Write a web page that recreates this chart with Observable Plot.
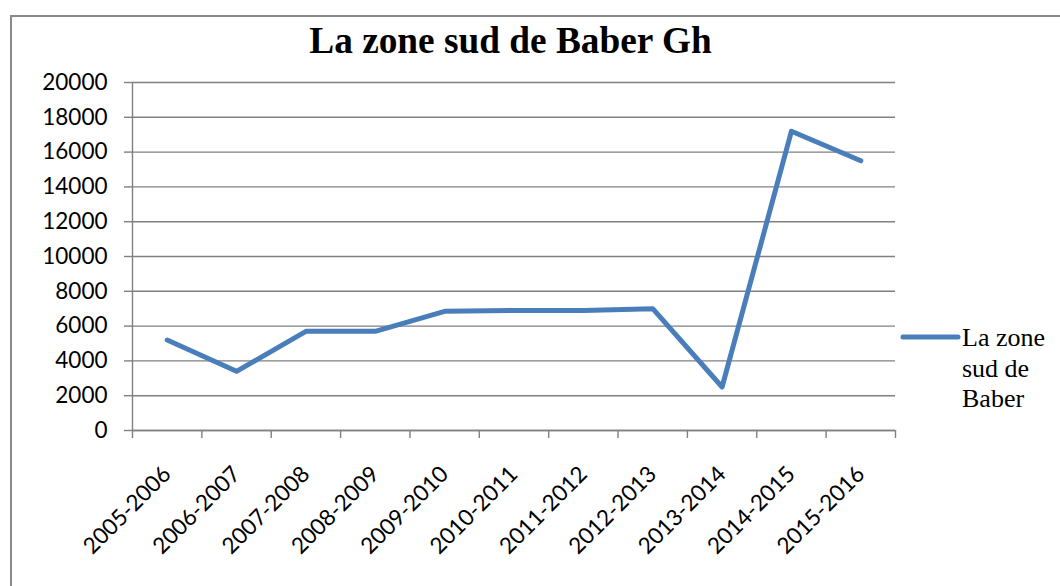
<!DOCTYPE html>
<html>
<head>
<meta charset="utf-8">
<script src="https://cdn.jsdelivr.net/npm/d3@7"></script>
<script src="https://cdn.jsdelivr.net/npm/@observablehq/plot@0.6"></script>
<style>
  html, body { margin: 0; padding: 0; background: #fff; }
  #wrap { position: relative; width: 1060px; height: 586px; overflow: hidden; background: #fff; }
  #frame { position: absolute; left: 10px; top: 15px; width: 1100px; height: 620px; border: 2px solid #8a8a8a; box-sizing: border-box; }
  #chart { position: absolute; left: 0; top: 0; }
  #title { position: absolute; left: 0; top: 22px; width: 1021px; text-align: center; font-family: "Liberation Serif", "Times New Roman", serif; font-weight: bold; font-size: 37.3px; line-height: 37.3px; color: #000; }
  #legend-line { position: absolute; left: 898px; top: 330px; }
  #legend-text { position: absolute; left: 962px; top: 323px; font-family: "Liberation Serif", "Times New Roman", serif; font-size: 26px; line-height: 30.5px; color: #000; }
</style>
</head>
<body>
<div id="wrap">
  <div id="frame"></div>
  <div id="chart"></div>
  <div id="title">La zone sud de Baber Gh</div>
  <svg id="legend-line" width="66" height="14"><line x1="5" y1="7" x2="60" y2="7" stroke="#4a7ebb" stroke-width="5" stroke-linecap="round"/></svg>
  <div id="legend-text">La zone<br>sud de<br>Baber</div>
</div>
<script>
const categories = ["2005-2006","2006-2007","2007-2008","2008-2009","2009-2010","2010-2011","2011-2012","2012-2013","2013-2014","2014-2015","2015-2016"];
const values = [5200, 3400, 5700, 5700, 6850, 6900, 6900, 7000, 2500, 17200, 15500];
const yTicks = [0, 2000, 4000, 6000, 8000, 10000, 12000, 14000, 16000, 18000, 20000];

const data = categories.map((c, i) => ({pos: i + 0.5, cat: c, value: values[i]}));
const boundaries = d3.range(categories.length + 1);
const centers = data.map(d => d.pos);
const gray = "#808080";

const chart = Plot.plot({
  width: 1060,
  height: 586,
  marginLeft: 132,
  marginRight: 165,
  marginTop: 82,
  marginBottom: 156,
  style: {background: "transparent", fontFamily: "Lato, 'Open Sans', sans-serif", color: "#000"},
  x: {domain: [0, categories.length]},
  y: {domain: [0, 20000]},
  marks: [
    Plot.gridY(yTicks, {stroke: gray, strokeOpacity: 1, strokeWidth: 1.4}),
    Plot.axisY({ticks: yTicks, tickSize: 8, tickPadding: 17, fontSize: 22.5, stroke: gray, strokeOpacity: 1, strokeWidth: 1.4, fill: "#000", tickFormat: d3.format("d"), label: null}),
    Plot.ruleX([0], {stroke: gray, strokeWidth: 1.4}),
    Plot.ruleY([0], {stroke: gray, strokeWidth: 1.4}),
    Plot.axisX({ticks: boundaries, tickSize: 8, tickFormat: () => "", stroke: gray, strokeOpacity: 1, strokeWidth: 1.4, label: null}),
    Plot.axisX({ticks: centers, tickSize: 0, tickPadding: 40, tickRotate: -45, textAnchor: "end", fontSize: 22.5, fill: "#000", tickFormat: d => categories[Math.floor(d)], label: null}),
    Plot.line(data, {x: "pos", y: "value", stroke: "#4a7ebb", strokeWidth: 5, strokeLinejoin: "round", strokeLinecap: "round"})
  ]
});
document.getElementById("chart").appendChild(chart);
</script>
</body>
</html>
